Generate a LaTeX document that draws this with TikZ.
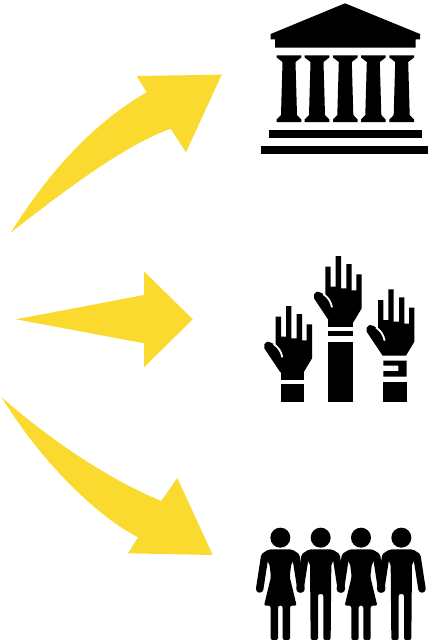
\documentclass[tikz,border=0pt]{standalone}
\usepackage{xcolor}
\definecolor{arrowyellow}{HTML}{FADA2E}
\tikzset{
  arrowfill/.style={fill=arrowyellow},
  iconfill/.style={fill=black},
  handslit/.style={draw=white,line width=1.8pt},
  armline/.style={draw=black,line width=7.5pt,line cap=round}
}

\begin{document}
\begin{tikzpicture}[x=1pt,y=-1pt]
\useasboundingbox (0, 0) rectangle (428, 640);

% arrows
\fill[arrowfill] (10.7, 232.7) .. controls (50, 170) and (95, 122) .. (146.7, 92.3) -- (136.7, 76) -- (221.7, 74.7) -- (186, 152.3) -- (170.7, 128.7) .. controls (125, 145) and (65, 190) .. cycle;
\fill[arrowfill] (16, 319.3) -- (144, 295) -- (144, 271.3) -- (192.7, 319.3) -- (144, 367.3) -- (144, 343.3) -- cycle;
\fill[arrowfill] (1.7, 397.3) .. controls (50, 440) and (110, 480) .. (161.3, 501) -- (177.3, 478) -- (212.7, 555) -- (128, 553.3) -- (138, 537.3) .. controls (95, 515) and (40, 460) .. cycle;

% temple
\fill[iconfill] (345, 3.3) -- (420, 34) -- (420, 39.3) -- (415.7, 39.3) -- (415.7, 47.7) -- (275, 47.7) -- (275, 39.3) -- (270.7, 39.3) -- (270.7, 34) -- cycle;
\foreach \x in {289, 317, 345.3, 373.3, 401.7} {
  \fill[iconfill] (\x-12.3, 55.3) -- (\x+12.3, 55.3) -- (\x+12.3, 57.5) -- (\x+6.5, 62) -- (\x+8, 115) -- (\x+12.3, 119.5) -- (\x+12.3, 122) -- (\x-12.3, 122) -- (\x-12.3, 119.5) -- (\x-8, 115) -- (\x-6.5, 62) -- (\x-12.3, 57.5) -- cycle;
}
\fill[iconfill] (268.7, 130) rectangle (421.7, 138);
\fill[iconfill] (260.7, 146) rectangle (428, 154.3);

% hands
\begin{scope}[shift={(250, 245)},scale=1/3]
\foreach \dx/\dy in {0/0, -149/150, 158/100} {
  \begin{scope}[shift={(\dx, \dy)}]
  \fill[iconfill] (226, 65) -- (242, 65) -- (242, 125) -- (257, 125) -- (257, 33) -- (273, 33) -- (273, 130) -- (289, 130) -- (289, 57) -- (305, 57) -- (305, 136) -- (319, 136) -- (319, 88) -- (335, 88) -- (335, 190) -- (310, 232) -- (240, 232) -- (192, 160) -- (192, 148) -- (200, 140) -- (210, 142) -- (226, 150) -- cycle;
  \draw[handslit] (220, 147) .. controls (235, 158) and (243, 170) .. (246, 187);
  \end{scope}
}
\fill[iconfill] (235, 225) rectangle (310, 245);
\fill[iconfill] (235, 258) rectangle (310, 274);
\fill[iconfill] (235, 290) rectangle (310, 470);
\fill[iconfill] (92, 370) rectangle (162, 405);
\fill[iconfill] (92, 417) rectangle (162, 470);
\fill[iconfill] (400, 347) -- (470, 347) -- (470, 395) -- (400, 395) -- (400, 378) -- (445, 378) -- (445, 362) -- (400, 362) -- cycle;
\fill[iconfill] (400, 410) rectangle (470, 470);
\end{scope}

% people
\begin{scope}[shift={(245, 515)},scale=1/3]
\foreach \cx in {106, 348} {
  \begin{scope}[shift={(\cx, 0)}]
  \fill[iconfill,rounded corners=2pt] (-35, 103) -- (35, 103) -- (58, 118) -- (33, 145) -- (28, 185) -- (49, 272) -- (29, 272) -- (29, 375) -- (7, 375) -- (7, 272) -- (-7, 272) -- (-7, 375) -- (-29, 375) -- (-29, 272) -- (-49, 272) -- (-28, 185) -- (-33, 145) -- (-58, 118) -- cycle;
  \end{scope}
}
\foreach \cx in {227, 469} {
  \begin{scope}[shift={(\cx, 0)}]
  \fill[iconfill,rounded corners=2pt] (-35, 103) -- (35, 103) -- (58, 118) -- (32, 145) -- (30, 375) -- (8, 375) -- (8, 237) -- (-8, 237) -- (-8, 375) -- (-30, 375) -- (-32, 145) -- (-58, 118) -- cycle;
  \end{scope}
}
\foreach \cx in {106, 227, 348, 469} {
  \fill[iconfill] (\cx, 68) circle [radius=30];
  \draw[armline] (\cx-47, 125) -- (\cx-62, 222);
  \draw[armline] (\cx+47, 125) -- (\cx+62, 222);
}
\end{scope}
\end{tikzpicture}
\end{document}
